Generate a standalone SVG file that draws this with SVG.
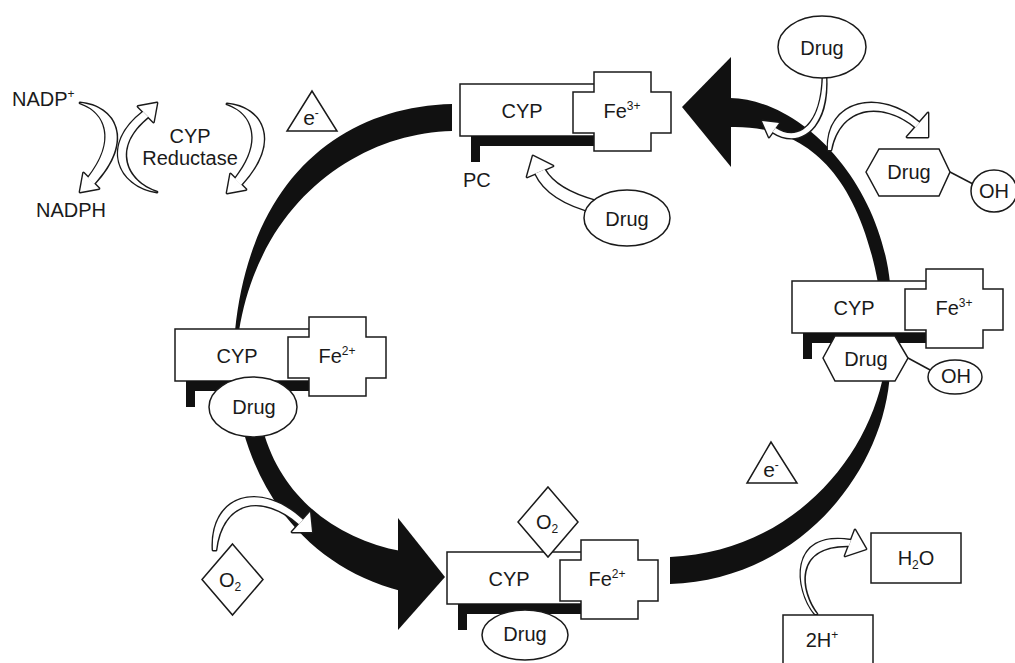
<svg xmlns="http://www.w3.org/2000/svg" width="1015" height="663" viewBox="0 0 1015 663">
<style>
text{font-family:"Liberation Sans",Arial,sans-serif;font-size:20px;fill:#1a1a1a}
.c{text-anchor:middle}
.sh{fill:#fff;stroke:#1a1a1a;stroke-width:1.5}
.ln{fill:none;stroke:#1a1a1a;stroke-width:1.5}
.bk{fill:#111}
.ho{fill:#1a1a1a;stroke:#1a1a1a;stroke-width:2.8;stroke-linejoin:round}
.hi{fill:#fff;stroke:none}
.sup{font-size:12px}
.e{font-size:21px}
</style>
<defs>
<path id="cross" d="M134,-12H191V8H211V49H191V67H134V49H113V8H134Z"/>
<path id="bar" d="M11,52H134V62H20V78H11Z"/>
<path id="s1" d="M80,103C115,106 135,140 94,184L88,178C118,140 106,112 80,103Z"/>
<path id="h1" d="M80,192L99,188.5L83.5,173Z"/>
<path id="s2" d="M157,192C118,186 100,145 143.2,111.8L148.2,116.8C110,148 126,182 157,192Z"/>
<path id="h2" d="M157,103L153.5,122L138,106.5Z"/>
<path id="s4" d="M596,201Q556,190 544.6,169.5L535.4,173.5Q548,201 596,213Z"/>
<path id="h4" d="M533,156L527,177L553,166Z"/>
<path id="s5" d="M826,75C829,128 800,150 772.5,132L775.5,128C798,143 822,126 823,75Z"/>
<path id="h5" d="M762,121L779,123L769,137Z"/>
<path id="s6" d="M828,150C826,100 880,88 919.5,122.8L915.5,127.2C882,100 840,105 831,150Z"/>
<path id="h6" d="M928,137L928,113L907,137Z"/>
<path id="s7" d="M213,550C210,495 260,480 303,519.8L299,524.2C262,492 222,500 216,550Z"/>
<path id="h7" d="M312,532L310,512L292,532Z"/>
<path id="s8" d="M815,614C795,590 788,530 851.1,540.2L848.9,545.8C792,545 800,592 817,614Z"/>
<path id="h8" d="M866,549L855,530L845,556Z"/>
</defs>
<rect width="1015" height="663" fill="#fff"/>

<g id="connectors">
  <path class="bk" d="M452,104C340,107 250,180 235,331L239,331C260,200 360,133 452,131Z"/>
  <path class="bk" d="M730,98C805,100 880,185 890,283L878,283C855,160 795,125 730,127Z"/>
  <polygon class="bk" points="682,107 731,57 731,167"/>
  <path class="bk" d="M890,372C885,470 800,580 670,584L670,557C790,552 868,460 884,372Z"/>
  <path class="bk" d="M243,430C265,510 320,570 401,591L401,551C340,540 282,500 263,430Z"/>
  <polygon class="bk" points="398,518 445,577 398,630"/>

  <g id="arrow-nadp1"><use class="ho" href="#s1"/><use class="ho" href="#h1"/><use class="hi" href="#s1"/><use class="hi" href="#h1"/></g>
  <g id="arrow-nadp2"><use class="ho" href="#s2"/><use class="ho" href="#h2"/><use class="hi" href="#s2"/><use class="hi" href="#h2"/></g>
  <g id="arrow-reductase" transform="translate(147,1)"><use class="ho" href="#s1"/><use class="ho" href="#h1"/><use class="hi" href="#s1"/><use class="hi" href="#h1"/></g>
  <g id="arrow-drug-pc"><use class="ho" href="#s4"/><use class="ho" href="#h4"/><use class="hi" href="#s4"/><use class="hi" href="#h4"/></g>
  <g id="arrow-drug-in"><use class="ho" href="#s5"/><use class="ho" href="#h5"/><use class="hi" href="#s5"/><use class="hi" href="#h5"/></g>
  <g id="arrow-product"><use class="ho" href="#s6"/><use class="ho" href="#h6"/><use class="hi" href="#s6"/><use class="hi" href="#h6"/></g>
  <g id="arrow-o2"><use class="ho" href="#s7"/><use class="ho" href="#h7"/><use class="hi" href="#s7"/><use class="hi" href="#h7"/></g>
  <g id="arrow-h2o"><use class="ho" href="#s8"/><use class="ho" href="#h8"/><use class="hi" href="#s8"/><use class="hi" href="#h8"/></g>
</g>

<g id="nadp-plus"><text x="12" y="106">NADP<tspan class="sup" dy="-8">+</tspan></text></g>
<g id="nadph"><text x="36" y="217">NADPH</text></g>
<g id="cyp-reductase"><text class="c" x="190" y="143">CYP</text><text class="c" x="190" y="165">Reductase</text></g>

<g id="e-top"><polygon class="sh" points="312,91 287,131 337,131"/><text class="c e" x="311" y="125">e<tspan class="sup" dy="-8">-</tspan></text></g>
<g id="e-right"><polygon class="sh" points="771,442 747,483 797,483"/><text class="c e" x="771" y="477">e<tspan class="sup" dy="-8">-</tspan></text></g>

<g id="state-top">
  <g transform="translate(460,84)">
    <rect class="sh" x="0" y="0" width="150" height="52"/>
    <use class="bk" href="#bar"/>
    <use class="sh" href="#cross"/>
    <text class="c" x="62" y="34">CYP</text>
    <text class="c" x="162" y="34">Fe<tspan class="sup" dy="-8">3+</tspan></text>
  </g>
  <text x="463" y="187">PC</text>
</g>

<g id="drug-free">
  <ellipse class="sh" cx="627" cy="218" rx="43" ry="28"/>
  <text class="c" x="627" y="226">Drug</text>
</g>

<g id="drug-top-right">
  <ellipse class="sh" cx="822" cy="47" rx="44" ry="31"/>
  <text class="c" x="822" y="55">Drug</text>
</g>

<g id="product">
  <line class="ln" x1="950" y1="172" x2="973" y2="184"/>
  <polygon class="sh" points="866,172 879,149 939,149 950,172 939,196 879,196"/>
  <text class="c" x="909" y="179">Drug</text>
  <ellipse class="sh" cx="994" cy="191" rx="23" ry="21"/>
  <text class="c" x="994" y="198">OH</text>
</g>

<g id="state-right">
  <g transform="translate(792,281)">
    <rect class="sh" x="0" y="0" width="150" height="52"/>
    <use class="bk" href="#bar"/>
    <use class="sh" href="#cross"/>
    <text class="c" x="62" y="34">CYP</text>
    <text class="c" x="162" y="34">Fe<tspan class="sup" dy="-8">3+</tspan></text>
  </g>
  <line class="ln" x1="908" y1="358" x2="932" y2="371"/>
  <polygon class="sh" points="823,358 835,336 895,336 908,358 895,381 835,381"/>
  <text class="c" x="866" y="366">Drug</text>
  <ellipse class="sh" cx="955" cy="377" rx="27" ry="17"/>
  <text class="c" x="956" y="383">OH</text>
</g>

<g id="state-left">
  <g transform="translate(175,329)">
    <rect class="sh" x="0" y="0" width="150" height="52"/>
    <use class="bk" href="#bar"/>
    <use class="sh" href="#cross"/>
    <text class="c" x="62" y="34">CYP</text>
    <text class="c" x="162" y="34">Fe<tspan class="sup" dy="-8">2+</tspan></text>
  </g>
  <ellipse class="sh" cx="253" cy="407" rx="44" ry="30"/>
  <text class="c" x="254" y="414">Drug</text>
</g>

<g id="state-bottom">
  <g transform="translate(447,552)">
    <rect class="sh" x="0" y="0" width="150" height="52"/>
    <use class="bk" href="#bar"/>
    <use class="sh" href="#cross"/>
    <text class="c" x="62" y="34">CYP</text>
    <text class="c" x="160" y="34">Fe<tspan class="sup" dy="-8">2+</tspan></text>
  </g>
  <ellipse class="sh" cx="525" cy="635" rx="43" ry="25"/>
  <text class="c" x="525" y="641">Drug</text>
  <polygon class="sh" points="548,487 578,522 548,557 518,522"/>
  <text x="536" y="529">O<tspan class="sup" dy="4">2</tspan></text>
</g>

<g id="o2-free">
  <polygon class="sh" points="232.5,544 263,579.5 232.5,615 202,579.5"/>
  <text x="219" y="587">O<tspan class="sup" dy="4">2</tspan></text>
</g>

<g id="h2o">
  <rect class="sh" x="871" y="533" width="90" height="50"/>
  <text class="c" x="916" y="565">H<tspan class="sup" dy="4">2</tspan><tspan dy="-4">O</tspan></text>
</g>

<g id="protons">
  <rect class="sh" x="783" y="615" width="90" height="60"/>
  <text class="c" x="822" y="647">2H<tspan class="sup" dy="-8">+</tspan></text>
</g>
</svg>
